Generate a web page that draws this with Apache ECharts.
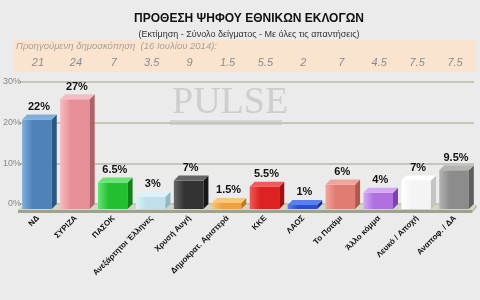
<!DOCTYPE html>
<html><head><meta charset="utf-8">
<script src="https://cdn.jsdelivr.net/npm/echarts@6/dist/echarts.min.js"></script>
<style>html,body{margin:0;padding:0;background:#ebebeb}#c{width:480px;height:300px}</style>
</head><body><div id="c"></div>
<script>
const categories = ['ΝΔ','ΣΥΡΙΖΑ','ΠΑΣΟΚ','Ανεξάρτητοι Έλληνες','Χρυσή Αυγή','Δημοκρατ. Αριστερά','ΚΚΕ','ΛΑΟΣ','Το Ποτάμι','Άλλο κόμμα','Λευκό / Αποχή','Αναποφ. / ΔΑ'];
const values = [22, 27, 6.5, 3, 7, 1.5, 5.5, 1, 6, 4, 7, 9.5];
const previous = ['21','24','7','3.5','9','1.5','5.5','2','7','4.5','7.5','7.5'];
const yMin = 0, yMax = 30, yInterval = 10;
const barColors = [
  ['#4f82b8','#7eaedc','#2d5680'],
  ['#e8909a','#f6bcc2','#b06068'],
  ['#22c030','#66e474','#108018'],
  ['#bfe0ea','#dcf2f8','#90b8c4'],
  ['#333333','#666666','#181818'],
  ['#f0a040','#f8c878','#c07820'],
  ['#dd2222','#f05a5a','#a01010'],
  ['#2850d0','#5a80f0','#183090'],
  ['#e07c72','#f2a49c','#b05850'],
  ['#b070e0','#d4a8f4','#8040b0'],
  ['#f4f4f4','#ffffff','#c4c4c4'],
  ['#8c8c8c','#b4b4b4','#5e5e5e']
];
const D = 5;
const chart = echarts.init(document.getElementById('c'), null, {renderer:'canvas'});
const option = {
  backgroundColor: '#ebebeb',
  animation: false,
  title: [{
    text: 'ΠΡΟΘΕΣΗ ΨΗΦΟΥ ΕΘΝΙΚΩΝ ΕΚΛΟΓΩΝ',
    left: 244, top: 8, textAlign: 'center',
    textStyle: {fontFamily: 'Liberation Sans, Arial, sans-serif', fontWeight: 'bold', fontSize: 12, color: '#111'}
  },{
    text: '(Εκτίμηση - Σύνολο δείγματος - Με όλες τις απαντήσεις)',
    left: 244, top: 25, textAlign: 'center',
    textStyle: {fontFamily: 'Liberation Sans, Arial, sans-serif', fontWeight: 'normal', fontSize: 9, color: '#333'}
  }],
  graphic: [
    {type:'rect', left: 14, top: 40, shape:{width: 462, height: 32}, style:{fill:'#fbe4cf'}, z: -10},
    {type:'text', left: 16, top: 41, style:{text:'Προηγούμενη δημοσκόπηση  (16 Ιουλίου 2014):', font:'italic 9.5px "Liberation Sans", Arial, sans-serif', fill:'#a8a098'}, z: -9},
    {type:'text', left: 172, top: 84, style:{text:'PULSE', font:'38px "Liberation Serif", "DejaVu Serif", serif', fill:'rgba(170,170,170,0.45)'}, z: -5},
    {type:'rect', left: 170, top: 120, shape:{width: 112, height: 5}, style:{fill:'rgba(170,170,170,0.35)'}, z: -5}
  ],
  grid: {left: 13, right: 6, top: 82, bottom: 96, containLabel: false},
  xAxis: [{
    type: 'category', data: categories, position: 'bottom',
    axisLine: {show: false}, axisTick: {show: false},
    axisLabel: {rotate: 45, interval: 0, margin: 13, fontSize: 8, fontWeight: 'bold', color: '#111', fontFamily: 'Liberation Sans, Arial, sans-serif'}
  },{
    type: 'category', data: previous, position: 'top',
    axisLine: {show: false}, axisTick: {show: false},
    axisLabel: {interval: 0, margin: 14, fontSize: 11, fontStyle: 'italic', color: '#8a8a8a', fontFamily: 'Liberation Sans, Arial, sans-serif'}
  }],
  yAxis: {
    type: 'value', min: yMin, max: yMax, interval: yInterval,
    axisLine: {show: false}, axisTick: {show: false},
    axisLabel: {formatter: '{value}%', fontSize: 9, color: '#888', margin: -2, fontFamily: 'Liberation Sans, Arial, sans-serif'},
    splitLine: {lineStyle: {color: '#c6c6b8', width: 2}}
  },
  series: [{
    type: 'custom', z: 1,
    data: [[0, 0]],
    renderItem: function(params, api) {
      const cs = params.coordSys;
      const y0 = api.coord([0, 0])[1];
      const x0 = cs.x - 1, x1 = cs.x + cs.width - 2;
      return {type:'group', children:[
        {type:'polygon', shape:{points:[[x0, y0 + D + 1],[x1, y0 + D + 1],[x1 + D, y0 + 1],[x0 + D, y0 + 1]]}, style:{fill:'#d3d6c6'}},
        {type:'rect', shape:{x: x0, y: y0 + D + 1, width: x1 - x0, height: 3}, style:{fill:'#9da38c'}},
        {type:'polygon', shape:{points:[[x1, y0 + D + 1],[x1 + D, y0 + 1],[x1 + D, y0 + 3],[x1, y0 + D + 4]]}, style:{fill:'#b5baa4'}}
      ]};
    }
  },{
    type: 'custom', z: 3,
    data: values.map((v, i) => [i, v]),
    encode: {x: 0, y: 1},
    renderItem: function(params, api) {
      const i = api.value(0), v = api.value(1);
      const p = api.coord([i, v]);
      const b = api.coord([i, 0]);
      const bw = api.size([1, 0])[0] * 0.78;
      const cx = p[0] - 1;
      const x0 = cx - bw / 2, x1 = cx + bw / 2;
      const yt = p[1] + D, yb = b[1] + D;
      const c = barColors[i];
      return {type:'group', children:[
        {type:'rect', shape:{x: x0, y: yt, width: bw, height: yb - yt}, style:{fill: new echarts.graphic.LinearGradient(0,0,1,0,[{offset:0,color:c[1]},{offset:0.35,color:c[0]},{offset:1,color:c[0]}])}},
        {type:'polygon', shape:{points:[[x1, yt],[x1 + D, yt - D],[x1 + D, yb - D],[x1, yb]]}, style:{fill:c[2]}},
        {type:'polygon', shape:{points:[[x0, yt],[x1, yt],[x1 + D, yt - D],[x0 + D, yt - D]]}, style:{fill:c[1]}},
        {type:'text', style:{text: v + '%', x: cx + 2, y: yt - D - 2, textAlign:'center', textVerticalAlign:'bottom', font:'bold 11px "Liberation Sans", Arial, sans-serif', fill:'#111'}}
      ]};
    }
  }]
};
chart.setOption(option);
</script></body></html>
